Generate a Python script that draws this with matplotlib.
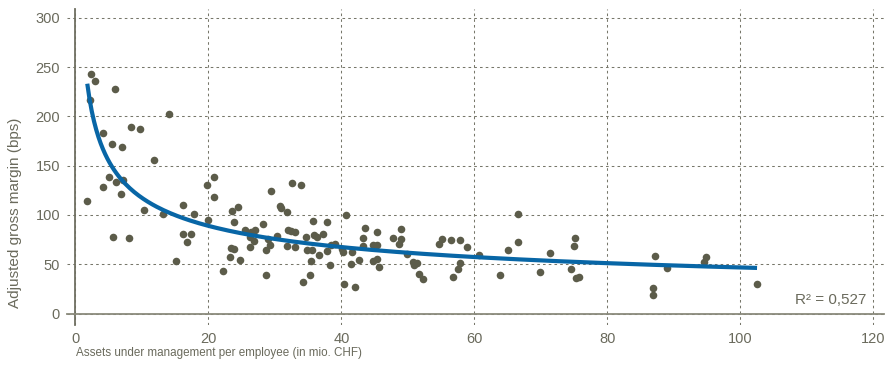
import numpy as np
import matplotlib
matplotlib.use('Agg')
import matplotlib.pyplot as plt

plt.rcParams['font.family'] = ['Liberation Sans', 'DejaVu Sans']

# assets under management per employee (mio. CHF) and adjusted gross margin (bps)
aum = [2.3, 2.9, 6.0, 2.2, 14.1, 4.2, 8.3, 9.8, 5.5, 7.0, 11.9, 5.1, 4.1, 6.1,
       7.1, 6.8, 1.8, 10.3, 13.2, 16.2, 17.8, 5.7, 8.0, 16.2, 17.4, 16.8, 15.2,
       19.8, 20.9, 20.8, 19.9, 23.6, 24.5, 23.8, 29.4, 32.6, 33.9, 30.8, 30.9,
       31.8, 28.2, 25.5, 26.4, 27.0, 26.3, 26.8, 28.9, 30.4, 29.3, 28.7, 26.2,
       23.4, 23.8, 23.3, 24.8, 22.2, 28.6, 32.0, 32.5, 33.0, 31.9, 33.1, 34.7,
       34.9, 34.2, 35.3,
       35.7, 37.8, 40.7, 35.9, 36.4, 37.3, 35.6, 36.6, 37.8, 38.4, 39.1, 40.1,
       40.3, 41.6, 35.5, 38.3, 41.4, 42.6, 40.4, 42.1, 43.5, 43.3, 45.4, 47.8,
       48.9, 48.9, 48.6, 44.8, 45.4, 43.2, 49.8, 44.7, 45.4, 45.6, 50.7, 51.3,
       50.9, 51.7, 52.3,
       54.7, 55.2, 56.5, 57.8, 58.9, 57.9, 57.5, 56.8, 60.7, 66.6, 66.6, 65.1,
       63.8, 69.8,
       71.3, 75.1, 75.0, 74.5, 75.3, 75.7, 87.1, 86.9, 86.8,
       89.0, 94.8, 94.5, 102.5]
margin = [243, 236, 228, 217, 202, 183, 189, 187, 172, 169, 156, 139, 128, 133,
          135, 121, 114, 105, 101, 110, 101, 78, 77, 81, 81, 73, 53,
          130, 139, 118, 95, 104, 108, 93, 124, 132, 130, 109, 107,
          103, 91, 85, 83, 85, 78, 74, 76, 79, 70, 64.5, 68,
          67, 65, 57, 54, 43, 39, 85, 84, 83, 68.6, 68, 78,
          64, 32, 39,
          94, 93, 100, 80, 78, 81, 64.5, 59, 63, 70, 71, 66,
          62.5, 62.5, 53, 49, 50, 54, 29.5, 26.7, 86.5, 77, 82.5, 76.7,
          86, 75.4, 70.6, 69.6, 69.6, 68.6, 60, 53, 55.4, 47, 52, 51.6,
          49.6, 40.5, 34.8,
          70.6, 75.4, 75, 74.6, 67.5, 51.3, 45.5, 37, 59, 101, 72.3, 64.5,
          39, 42.5,
          61.8, 77, 68.9, 45.2, 36.4, 37.2, 58.4, 26.3, 18.9,
          46.2, 57, 52.3, 30]

# power trendline y = a * x^b
trend_a = 295.0
trend_b = -0.40
r2_label = 'R² = 0,527'

x_ticks = [0, 20, 40, 60, 80, 100, 120]
y_ticks = [0, 50, 100, 150, 200, 250, 300]

text_col = '#6a6a5c'
grid_col = '#77776a'

fig = plt.figure(figsize=(8.87, 3.65), dpi=100)
ax = fig.add_axes([0.075, 0.1096, 0.9217, 0.8658])

ax.scatter(aum, margin, s=30, color='#5c5c4a', linewidths=0, zorder=3)

xs = np.linspace(min(aum), max(aum), 300)
ax.plot(xs, trend_a * xs ** trend_b, color='#0866a6', lw=3, zorder=4,
        solid_capstyle='butt')

ax.set_xlim(-1.32, 121.6)
ax.set_ylim(-11.6, 309)
ax.set_xticks(x_ticks)
ax.set_yticks(y_ticks)
ax.grid(True, color=grid_col, lw=0.75, linestyle=(0, (2.5, 3)))
ax.set_axisbelow(True)

for side in ['top', 'right']:
    ax.spines[side].set_visible(False)
for side in ['left', 'bottom']:
    ax.spines[side].set_position(('data', 0))
    ax.spines[side].set_linewidth(1.3)
    ax.spines[side].set_zorder(2)
ax.spines['left'].set_color('#707062')
ax.spines['bottom'].set_color('#8a8a7c')

ax.tick_params(axis='y', length=0, pad=11, labelsize=10.5, labelcolor=text_col)
ax.tick_params(axis='x', length=0, pad=13, labelsize=10.5, labelcolor=text_col)

ax.text(118.9, 13.8, r2_label, ha='right', va='center', fontsize=11,
        color=text_col)

fig.text(15 / 887, 1 - 213 / 365, 'Adjusted gross margin (bps)', rotation=90,
         ha='center', va='center', fontsize=11, color=text_col)
fig.text(76 / 887, 1 - 353 / 365,
         'Assets under management per employee (in mio. CHF)',
         ha='left', va='center', fontsize=8.4, color=text_col)

fig.savefig('out.png', dpi=100)
